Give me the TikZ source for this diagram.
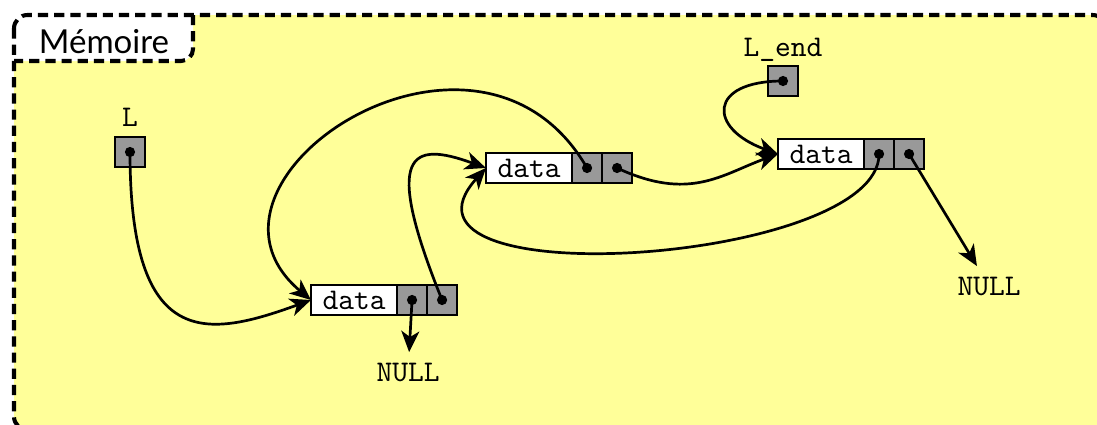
\documentclass[tikz,border=0pt]{standalone}
\usepackage{fontspec}
\newfontfamily\tabfont{Lato}
\usetikzlibrary{shapes,arrows,arrows.meta,positioning}
\definecolor{memyellow}{RGB}{255,255,153}
\tikzstyle{datablock} = [rectangle, draw=black, fill=white, line width=0.9pt, minimum width=28.7pt, minimum height=10pt, inner sep=0pt, outer sep=0pt, font=\ttfamily]
\tikzstyle{cellblock} = [rectangle, draw=black, fill=black!40, line width=0.9pt, minimum width=10pt, minimum height=10pt, inner sep=0pt, outer sep=0pt]
\tikzstyle{varname} = [font=\ttfamily]
\tikzstyle{frameline} = [line width=1.35pt, dash pattern=on 3.4pt off 2pt]
\tikzstyle{arrow} = [line width=0.9pt,-{Stealth[length=7pt,width=6pt,inset=2pt]}]

\begin{document}
\begin{tikzpicture}[x=0.3333pt,y=0.3333pt]
        \useasboundingbox (0,0) rectangle (1097,-424);
        % memory area
        \fill[memyellow, rounded corners=4.5pt] (14,-15) rectangle (1106,-430);
        \fill[white] (14,-15) -- (193,-15) [rounded corners=4pt] -- (193,-61) [sharp corners] -- (14,-61) -- cycle;
        \draw[frameline, rounded corners=4pt] (193,-15) -- (193,-61) -- (14,-61);
        \draw[frameline, rounded corners=4.5pt] (14,-15) rectangle (1106,-430);
        \node (memlabel) at (104,-42) {\tabfont\fontsize{11}{13}\selectfont Mémoire};

        % pointers
        \node (lbox) [cellblock] at (130,-152) {};
        \node (lname) [varname, above=0pt of lbox] {L};
        \node (lend) [cellblock] at (783,-81) {};
        \node (lendname) [varname, above=-2pt of lend] {L\_end};

        % list cells
        \node (n1) [datablock] at (354,-300) {data};
        \node (n1a) [cellblock, right=0pt of n1] {};
        \node (n1b) [cellblock, right=0pt of n1a] {};
        \node (n2) [datablock] at (529,-168) {data};
        \node (n2a) [cellblock, right=0pt of n2] {};
        \node (n2b) [cellblock, right=0pt of n2a] {};
        \node (n3) [datablock] at (821,-154) {data};
        \node (n3a) [cellblock, right=0pt of n3] {};
        \node (n3b) [cellblock, right=0pt of n3a] {};
        \node (null1) [varname] at (408,-372) {NULL};
        \node (null2) [varname] at (989,-286) {NULL};

        \foreach \c in {lbox,lend,n1a,n1b,n2a,n2b,n3a,n3b}
            \fill (\c) circle (1.7pt);

        \draw [arrow] (lbox.center) .. controls +(-90:200) and +(200:110) .. (n1.west);
        \draw [arrow] (n1a.center) -- (null1);
        \draw [arrow] (n1b.center) .. controls +(112:160) and +(160:80) .. (n2.west);
        \draw [arrow] (n2a.center) .. controls +(120:220) and +(140:185) .. (n1.west);
        \draw [arrow] (n2b.center) .. controls +(-25:80) and +(200:60) .. (n3.west);
        \draw [arrow] (n3a.center) .. controls +(-90:110) and +(228:175) .. (n2.west);
        \draw [arrow] (n3b.center) -- (null2);
        \draw [arrow] (lend.center) .. controls +(180:75) and +(160:75) .. (n3.west);
    \end{tikzpicture}
\end{document}
